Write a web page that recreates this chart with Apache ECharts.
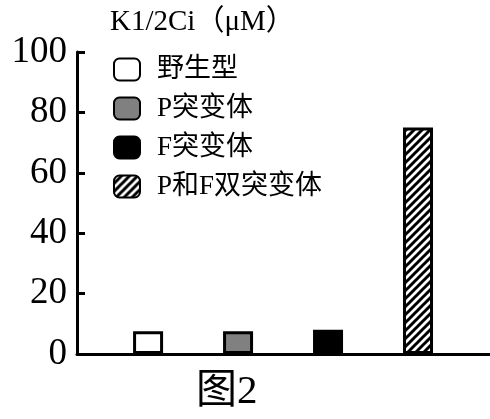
<!DOCTYPE html>
<html>
<head>
<meta charset="utf-8">
<script src="https://cdn.jsdelivr.net/npm/echarts@6/dist/echarts.min.js"></script>
<style>
  html, body { margin: 0; padding: 0; background: #fff; }
  #chart { width: 490px; height: 419px; }
</style>
</head>
<body>
<div id="chart"></div>
<script>
const categories = ["野生型", "P突变体", "F突变体", "P和F双突变体"];
const positions = [1, 2, 3, 4];
const values = [7.5, 7.5, 8, 75];
const yTicks = [0, 20, 40, 60, 80, 100];

// 斜线填充
const hatch = document.createElement("canvas");
hatch.width = 8;
hatch.height = 8;
const ctx = hatch.getContext("2d");
ctx.fillStyle = "#fff";
ctx.fillRect(0, 0, 8, 8);
ctx.strokeStyle = "#000";
ctx.lineWidth = 3;
ctx.beginPath();
ctx.moveTo(-2, 10); ctx.lineTo(10, -2);
ctx.moveTo(-6, 6); ctx.lineTo(6, -6);
ctx.moveTo(2, 14); ctx.lineTo(14, 2);
ctx.stroke();

const fills = ["#fff", "#808080", "#000", { image: hatch, repeat: "repeat" }];
const serif = "'Liberation Serif', 'Noto Sans CJK SC', serif";

const chart = echarts.init(document.getElementById("chart"));
chart.setOption({
  animation: false,
  title: {
    text: "K1/2Ci（μM）",
    left: 105, top: 3,
    textStyle: { fontFamily: serif, fontSize: 29, fontWeight: "normal", color: "#000" }
  },
  legend: {
    orient: "vertical",
    left: 108, top: 51,
    itemWidth: 26, itemHeight: 22, itemGap: 12,
    textStyle: { fontFamily: serif, fontSize: 27, color: "#000", padding: [0, 0, 0, 12] },
    data: categories
  },
  grid: { left: 77, right: 0, top: 52, bottom: 65 },
  xAxis: {
    type: "value", min: 0.21, max: 4.8,
    axisLine: { show: true, lineStyle: { color: "#000", width: 3 } },
    axisTick: { show: false }, axisLabel: { show: false }, splitLine: { show: false }
  },
  yAxis: {
    type: "value", min: yTicks[0], max: yTicks[yTicks.length - 1], interval: 20,
    axisLine: { show: true, lineStyle: { color: "#000", width: 3 } },
    axisTick: { show: true, inside: true, length: 8, lineStyle: { color: "#000", width: 3 } },
    axisLabel: { fontFamily: serif, fontSize: 37, color: "#000", margin: 10 },
    splitLine: { show: false }
  },
  series: categories.map((name, i) => ({
    name: name,
    type: "bar",
    barWidth: 30,
    barGap: "-100%",
    itemStyle: { color: fills[i], borderColor: "#000", borderWidth: 3 },
    data: [[positions[i], values[i]]]
  })),
  graphic: [{
    type: "text", left: 196, top: 372,
    style: { text: "图2", font: "41px " + serif, fill: "#000" }
  }]
});
</script>
</body>
</html>
